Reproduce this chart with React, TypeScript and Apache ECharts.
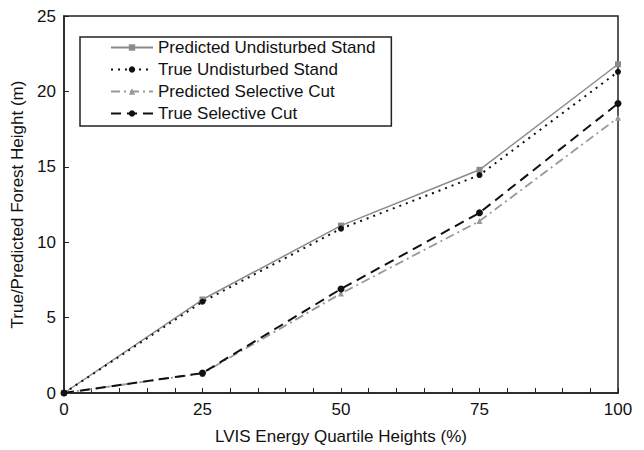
import React, { useEffect, useRef } from "react";
import * as echarts from "echarts";

const xValues = [0, 25, 50, 75, 100];
const predictedUndisturbed = [0, 6.2, 11.1, 14.8, 21.8];
const trueUndisturbed = [0, 6.05, 10.9, 14.45, 21.3];
const predictedSelective = [0, 1.3, 6.6, 11.4, 18.25];
const trueSelective = [0, 1.32, 6.9, 11.95, 19.2];

const seriesNames = [
  "Predicted Undisturbed Stand",
  "True Undisturbed Stand",
  "Predicted Selective Cut",
  "True Selective Cut",
];

const FONT = "Liberation Sans";

export default function App() {
  const ref = useRef<HTMLDivElement>(null);
  useEffect(() => {
    document.body.style.margin = "0";
    if (!ref.current) return;
    const chart = echarts.init(ref.current, undefined, { renderer: "svg" });
    const pair = (arr: number[]) => xValues.map((x, i) => [x, arr[i]]);
    chart.setOption({
      animation: false,
      backgroundColor: "#fff",
      textStyle: { fontFamily: FONT },
      grid: {
        left: 64,
        right: 26,
        top: 16,
        bottom: 56,
        show: true,
        borderColor: "#222",
        borderWidth: 1.5,
        backgroundColor: "transparent",
      },
      legend: {
        left: 80,
        top: 37,
        orient: "vertical",
        itemWidth: 42,
        itemHeight: 8,
        itemGap: 5,
        padding: [2, 16, 4, 30],
        borderColor: "#222",
        borderWidth: 1.5,
        textStyle: { fontFamily: FONT, fontSize: 17, color: "#111" },
        data: seriesNames,
      },
      xAxis: {
        type: "value",
        min: 0,
        max: 100,
        interval: 25,
        name: "LVIS Energy Quartile Heights (%)",
        nameLocation: "middle",
        nameGap: 35,
        nameTextStyle: { fontFamily: FONT, fontSize: 17, color: "#111" },
        axisLine: { lineStyle: { color: "#222", width: 1.5 } },
        axisTick: { inside: true, length: 5, lineStyle: { color: "#222", width: 1 } },
        minorTick: { show: true, splitNumber: 5, length: 5, lineStyle: { color: "#222", width: 1 } },
        axisLabel: { fontFamily: FONT, fontSize: 17, color: "#111", margin: 8 },
        splitLine: { show: false },
      },
      yAxis: {
        type: "value",
        min: 0,
        max: 25,
        interval: 5,
        name: "True/Predicted Forest Height (m)",
        nameLocation: "middle",
        nameGap: 35,
        nameTextStyle: { fontFamily: FONT, fontSize: 17, color: "#111" },
        axisLine: { show: true, lineStyle: { color: "#222", width: 1.5 } },
        axisTick: { show: true, inside: true, length: 5, lineStyle: { color: "#222", width: 1 } },
        axisLabel: { fontFamily: FONT, fontSize: 17, color: "#111", margin: 8 },
        splitLine: { show: false },
      },
      series: [
        {
          name: seriesNames[0],
          type: "line",
          data: pair(predictedUndisturbed),
          symbol: "rect",
          symbolSize: 6,
          itemStyle: { color: "#8a8a8a" },
          lineStyle: { color: "#8a8a8a", width: 1.5, type: "solid" },
          z: 3,
        },
        {
          name: seriesNames[1],
          type: "line",
          data: pair(trueUndisturbed),
          symbol: "circle",
          symbolSize: 6,
          itemStyle: { color: "#111" },
          lineStyle: { color: "#111", width: 2, type: [2, 5] },
          z: 4,
        },
        {
          name: seriesNames[2],
          type: "line",
          data: pair(predictedSelective),
          symbol: "triangle",
          symbolSize: 6,
          itemStyle: { color: "#999" },
          lineStyle: { color: "#999", width: 1.8, type: [9, 4, 2, 4] },
          z: 3,
        },
        {
          name: seriesNames[3],
          type: "line",
          data: pair(trueSelective),
          symbol: "circle",
          symbolSize: 7,
          itemStyle: { color: "#111" },
          lineStyle: { color: "#111", width: 2, type: [10, 6] },
          z: 4,
        },
      ],
    });
    return () => chart.dispose();
  }, []);
  return <div ref={ref} style={{ width: 644, height: 450 }} />;
}
